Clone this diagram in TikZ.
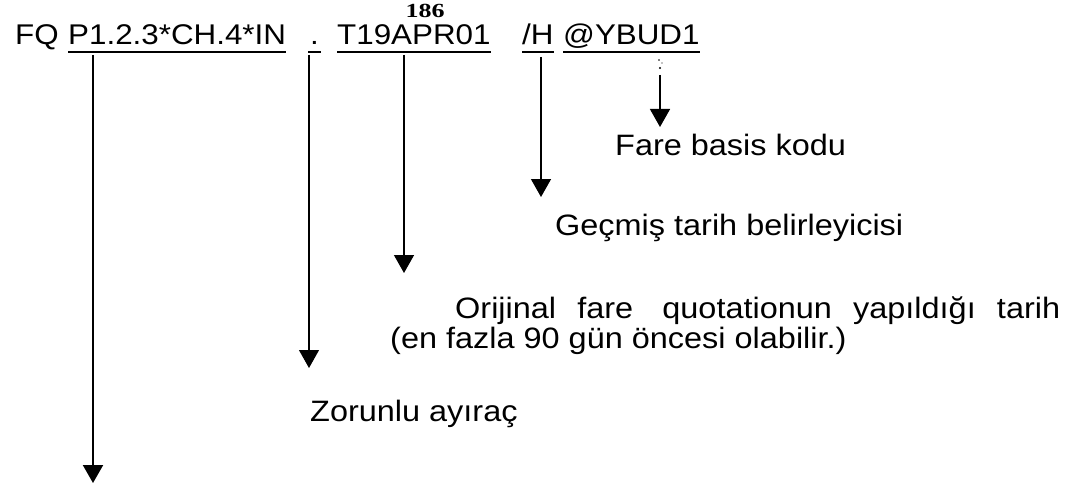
\documentclass[tikz,border=0pt]{standalone}
\usepackage{fontspec}
\setmainfont[FakeStretch=1.1]{Liberation Sans}
\newfontfamily\serifnum{Liberation Serif}
\usetikzlibrary{arrows.meta}
\tikzset{
  seg/.style={anchor=base west, inner sep=0pt, font=\fontsize{28.5}{28.5}\selectfont},
  lbl/.style={anchor=base west, inner sep=0pt, font=\fontsize{29.5}{32}\selectfont},
  uline/.style={line width=1.5pt},
  arr/.style={line width=1.4pt, -{Triangle[width=20pt,length=18pt]}},
  arrthick/.style={arr, line width=2pt},
  arrthin/.style={arr, line width=1.1pt}
}
\begin{document}
\begin{tikzpicture}[x=1pt,y=-1pt]
\useasboundingbox (0,0) rectangle (1080,487);
% top line
\node[seg] (fq) at (15,45) {FQ};
\node[seg] (p) at (68,45) {P1.2.3*CH.4*IN};
\node[seg] (dot) at (310,45) {.};
\node[seg] (t) at (337,45) {T19APR01};
\node[seg] (h) at (522,45) {/H};
\node[seg] (y) at (563,45) {@YBUD1};
\node[anchor=base, inner sep=0pt, font=\serifnum\bfseries\fontsize{20}{20}\selectfont] (num) at (425,18) {\scalebox{1.3}[1]{186}};
% underlines
\foreach \n in {p,t,h,y}{
  \draw[uline] ([yshift=-7pt]\n.base west) -- ([yshift=-7pt]\n.base east);
}
\draw[uline] ([yshift=-7pt,xshift=-2pt]dot.base west) -- ([yshift=-7pt,xshift=2pt]dot.base east);
% labels
\node[lbl] (fare) at (615,155) {Fare basis kodu};
\node[lbl] (gec) at (555,235) {Geçmiş tarih belirleyicisi};
\node[lbl] (ori1) at (455,318) {\makebox[605pt][s]{Orijinal fare\hspace{8pt} quotationun yapıldığı tarih}};
\node[lbl] (ori2) at (390,348) {(en fazla 90 gün öncesi olabilir.)};
\node[lbl] (zor) at (310,421) {Zorunlu ayıraç};
% arrow coordinates
\coordinate (a1s) at (93,55);  \coordinate (a1e) at (93,483);
\coordinate (a2s) at (309,55); \coordinate (a2e) at (309,368);
\coordinate (a3s) at (404,55); \coordinate (a3e) at (404,273);
\coordinate (a4s) at (541,57); \coordinate (a4e) at (541,197);
\coordinate (a5s) at (660,75); \coordinate (a5e) at (660,127);
\draw[arrthick] (a1s) -- (a1e);
\draw[arrthin] (a2s) -- (a2e);
\draw[arr] (a3s) -- (a3e);
\draw[arr] (a4s) -- (a4e);
\draw[arr] (a5s) -- (a5e);
% specks above arrow 5
\fill (659,60) circle (0.8);
\fill (662,63) circle (0.7);
\fill (660,68) circle (1.2);
\end{tikzpicture}
\end{document}
